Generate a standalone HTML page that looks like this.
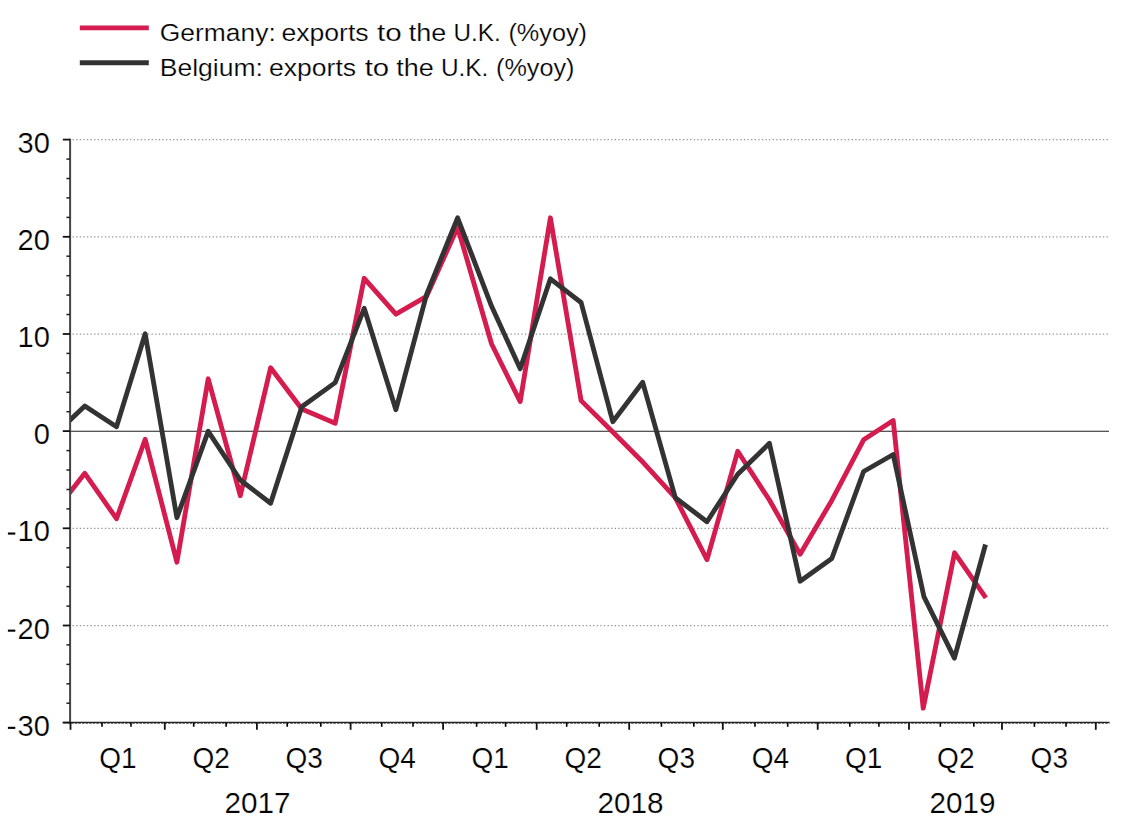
<!DOCTYPE html>
<html><head><meta charset="utf-8"><title>Exports to the U.K.</title>
<style>
html,body{margin:0;padding:0;background:#fff;}
body{width:1138px;height:823px;overflow:hidden;}
svg{display:block;}
text{font-family:"Liberation Sans",sans-serif;fill:#000;stroke:#fff;stroke-width:0.22px;}
</style></head><body>
<svg width="1138" height="823" viewBox="0 0 1138 823">
<defs><clipPath id="plot"><rect x="70" y="130" width="1045" height="600"/></clipPath></defs>
<rect width="1138" height="823" fill="#fff"/>
<line x1="72.6" x2="1108.6" y1="139.69" y2="139.69" stroke="#6f757e" stroke-width="1.25" stroke-dasharray="1.3 2.29" opacity="0.78"/>
<line x1="72.6" x2="1108.6" y1="236.86" y2="236.86" stroke="#6f757e" stroke-width="1.25" stroke-dasharray="1.3 2.29" opacity="0.78"/>
<line x1="72.6" x2="1108.6" y1="334.03" y2="334.03" stroke="#6f757e" stroke-width="1.25" stroke-dasharray="1.3 2.29" opacity="0.78"/>
<line x1="72.6" x2="1108.6" y1="528.37" y2="528.37" stroke="#6f757e" stroke-width="1.25" stroke-dasharray="1.3 2.29" opacity="0.78"/>
<line x1="72.6" x2="1108.6" y1="625.54" y2="625.54" stroke="#6f757e" stroke-width="1.25" stroke-dasharray="1.3 2.29" opacity="0.78"/>
<line x1="70" x2="1109" y1="431.25" y2="431.25" stroke="#1e1e1e" stroke-width="1.15"/>
<g clip-path="url(#plot)" fill="none" stroke-width="4.85" stroke-linejoin="round" stroke-linecap="butt">
<polyline points="53.1,513.9 84.8,473.3 116.5,518.7 145.2,439.3 176.9,562.2 208.2,378.8 240.3,495.7 270.6,367.8 301.8,409.0 335.2,423.2 364.2,278.3 395.9,314.2 426.6,296.3 457.6,227.3 491.6,344.0 520.2,401.7 550.4,217.8 581.1,400.6 612.8,432.0 643.5,462.8 675.3,497.6 707.0,559.7 737.7,451.3 769.4,500.0 800.1,554.2 831.8,500.4 863.6,439.8 893.2,420.5 923.2,708.2 954.6,552.8 985.9,597.9" stroke="#d41c4e"/>
<polyline points="53.1,436.3 84.8,406.0 116.5,426.7 145.2,333.8 176.9,517.7 208.2,431.3 240.3,480.0 270.6,503.2 301.8,406.7 335.2,382.6 364.2,308.3 395.9,409.7 426.6,294.3 457.6,217.8 491.6,306.3 520.2,368.7 550.4,278.8 581.1,302.5 612.8,421.7 642.7,382.3 675.3,497.6 707.0,521.7 737.7,474.3 769.4,443.3 800.1,581.2 831.8,558.5 863.6,471.5 893.2,454.5 923.9,596.6 954.4,658.1 985.5,544.5" stroke="#333333"/>
</g>
<line x1="70.1" x2="70.1" y1="138.7" y2="723.6" stroke="#454545" stroke-width="2"/>
<line x1="62.8" x2="1109.5" y1="722.36" y2="722.36" stroke="#222" stroke-width="1.05"/>
<line x1="70" x2="1109.5" y1="723.26" y2="723.26" stroke="#2a2a2a" stroke-width="0.9" stroke-dasharray="2.6 0.99" stroke-dashoffset="-1.2"/>
<line x1="62.8" x2="70" y1="722.7" y2="722.7" stroke="#111" stroke-width="1.8"/>
<line x1="66.4" x2="70" y1="703.2" y2="703.2" stroke="#222" stroke-width="1.5"/>
<line x1="66.4" x2="70" y1="683.8" y2="683.8" stroke="#222" stroke-width="1.5"/>
<line x1="66.4" x2="70" y1="664.4" y2="664.4" stroke="#222" stroke-width="1.5"/>
<line x1="66.4" x2="70" y1="644.9" y2="644.9" stroke="#222" stroke-width="1.5"/>
<line x1="62.8" x2="70" y1="625.5" y2="625.5" stroke="#111" stroke-width="1.8"/>
<line x1="66.4" x2="70" y1="606.1" y2="606.1" stroke="#222" stroke-width="1.5"/>
<line x1="66.4" x2="70" y1="586.6" y2="586.6" stroke="#222" stroke-width="1.5"/>
<line x1="66.4" x2="70" y1="567.2" y2="567.2" stroke="#222" stroke-width="1.5"/>
<line x1="66.4" x2="70" y1="547.8" y2="547.8" stroke="#222" stroke-width="1.5"/>
<line x1="62.8" x2="70" y1="528.3" y2="528.3" stroke="#111" stroke-width="1.8"/>
<line x1="66.4" x2="70" y1="508.9" y2="508.9" stroke="#222" stroke-width="1.5"/>
<line x1="66.4" x2="70" y1="489.5" y2="489.5" stroke="#222" stroke-width="1.5"/>
<line x1="66.4" x2="70" y1="470.0" y2="470.0" stroke="#222" stroke-width="1.5"/>
<line x1="66.4" x2="70" y1="450.6" y2="450.6" stroke="#222" stroke-width="1.5"/>
<line x1="62.8" x2="70" y1="431.1" y2="431.1" stroke="#111" stroke-width="1.8"/>
<line x1="66.4" x2="70" y1="411.7" y2="411.7" stroke="#222" stroke-width="1.5"/>
<line x1="66.4" x2="70" y1="392.3" y2="392.3" stroke="#222" stroke-width="1.5"/>
<line x1="66.4" x2="70" y1="372.8" y2="372.8" stroke="#222" stroke-width="1.5"/>
<line x1="66.4" x2="70" y1="353.4" y2="353.4" stroke="#222" stroke-width="1.5"/>
<line x1="62.8" x2="70" y1="334.0" y2="334.0" stroke="#111" stroke-width="1.8"/>
<line x1="66.4" x2="70" y1="314.5" y2="314.5" stroke="#222" stroke-width="1.5"/>
<line x1="66.4" x2="70" y1="295.1" y2="295.1" stroke="#222" stroke-width="1.5"/>
<line x1="66.4" x2="70" y1="275.7" y2="275.7" stroke="#222" stroke-width="1.5"/>
<line x1="66.4" x2="70" y1="256.2" y2="256.2" stroke="#222" stroke-width="1.5"/>
<line x1="62.8" x2="70" y1="236.8" y2="236.8" stroke="#111" stroke-width="1.8"/>
<line x1="66.4" x2="70" y1="217.4" y2="217.4" stroke="#222" stroke-width="1.5"/>
<line x1="66.4" x2="70" y1="197.9" y2="197.9" stroke="#222" stroke-width="1.5"/>
<line x1="66.4" x2="70" y1="178.5" y2="178.5" stroke="#222" stroke-width="1.5"/>
<line x1="66.4" x2="70" y1="159.1" y2="159.1" stroke="#222" stroke-width="1.5"/>
<line x1="62.8" x2="70" y1="139.6" y2="139.6" stroke="#111" stroke-width="1.8"/>
<line x1="70.5" x2="70.5" y1="722.7" y2="729.8" stroke="#111" stroke-width="1.8"/>
<line x1="102.0" x2="102.0" y1="722.7" y2="726.8" stroke="#000" stroke-width="1.6"/>
<line x1="131.0" x2="131.0" y1="722.7" y2="726.8" stroke="#000" stroke-width="1.6"/>
<line x1="164.8" x2="164.8" y1="722.7" y2="729.8" stroke="#111" stroke-width="1.8"/>
<line x1="193.7" x2="193.7" y1="722.7" y2="726.8" stroke="#000" stroke-width="1.6"/>
<line x1="226.1" x2="226.1" y1="722.7" y2="726.8" stroke="#000" stroke-width="1.6"/>
<line x1="256.9" x2="256.9" y1="722.7" y2="729.8" stroke="#111" stroke-width="1.8"/>
<line x1="287.2" x2="287.2" y1="722.7" y2="726.8" stroke="#000" stroke-width="1.6"/>
<line x1="320.8" x2="320.8" y1="722.7" y2="726.8" stroke="#000" stroke-width="1.6"/>
<line x1="350.6" x2="350.6" y1="722.7" y2="729.8" stroke="#111" stroke-width="1.8"/>
<line x1="381.7" x2="381.7" y1="722.7" y2="726.8" stroke="#000" stroke-width="1.6"/>
<line x1="413.0" x2="413.0" y1="722.7" y2="726.8" stroke="#000" stroke-width="1.6"/>
<line x1="443.1" x2="443.1" y1="722.7" y2="729.8" stroke="#111" stroke-width="1.8"/>
<line x1="476.6" x2="476.6" y1="722.7" y2="726.8" stroke="#000" stroke-width="1.6"/>
<line x1="505.6" x2="505.6" y1="722.7" y2="726.8" stroke="#000" stroke-width="1.6"/>
<line x1="536.7" x2="536.7" y1="722.7" y2="729.8" stroke="#111" stroke-width="1.8"/>
<line x1="566.7" x2="566.7" y1="722.7" y2="726.8" stroke="#000" stroke-width="1.6"/>
<line x1="599.2" x2="599.2" y1="722.7" y2="726.8" stroke="#000" stroke-width="1.6"/>
<line x1="629.2" x2="629.2" y1="722.7" y2="729.8" stroke="#111" stroke-width="1.8"/>
<line x1="661.4" x2="661.4" y1="722.7" y2="726.8" stroke="#000" stroke-width="1.6"/>
<line x1="693.8" x2="693.8" y1="722.7" y2="726.8" stroke="#000" stroke-width="1.6"/>
<line x1="722.8" x2="722.8" y1="722.7" y2="729.8" stroke="#111" stroke-width="1.8"/>
<line x1="755.0" x2="755.0" y1="722.7" y2="726.8" stroke="#000" stroke-width="1.6"/>
<line x1="787.7" x2="787.7" y1="722.7" y2="726.8" stroke="#000" stroke-width="1.6"/>
<line x1="817.7" x2="817.7" y1="722.7" y2="729.8" stroke="#111" stroke-width="1.8"/>
<line x1="849.8" x2="849.8" y1="722.7" y2="726.8" stroke="#000" stroke-width="1.6"/>
<line x1="878.9" x2="878.9" y1="722.7" y2="726.8" stroke="#000" stroke-width="1.6"/>
<line x1="909.0" x2="909.0" y1="722.7" y2="729.8" stroke="#111" stroke-width="1.8"/>
<line x1="940.3" x2="940.3" y1="722.7" y2="726.8" stroke="#000" stroke-width="1.6"/>
<line x1="973.8" x2="973.8" y1="722.7" y2="726.8" stroke="#000" stroke-width="1.6"/>
<line x1="1002.0" x2="1002.0" y1="722.7" y2="729.8" stroke="#111" stroke-width="1.8"/>
<line x1="1034.4" x2="1034.4" y1="722.7" y2="726.8" stroke="#000" stroke-width="1.6"/>
<line x1="1066.0" x2="1066.0" y1="722.7" y2="726.8" stroke="#000" stroke-width="1.6"/>
<line x1="1095.8" x2="1095.8" y1="722.7" y2="729.8" stroke="#111" stroke-width="1.8"/>
<text transform="translate(49.9 152.7) scale(1.004 1)" font-size="29" text-anchor="end">30</text>
<text transform="translate(49.9 249.9) scale(1.004 1)" font-size="29" text-anchor="end">20</text>
<text transform="translate(49.9 347.0) scale(1.004 1)" font-size="29" text-anchor="end">10</text>
<text transform="translate(49.9 444.2) scale(1.004 1)" font-size="29" text-anchor="end">0</text>
<text transform="translate(49.9 541.4) scale(1.004 1)" font-size="29" text-anchor="end">10</text>
<rect x="7.9" y="532.5" width="7.4" height="2.1" fill="#000"/>
<text transform="translate(49.9 638.5) scale(1.004 1)" font-size="29" text-anchor="end">20</text>
<rect x="7.9" y="629.6" width="7.4" height="2.1" fill="#000"/>
<text transform="translate(49.9 735.7) scale(1.004 1)" font-size="29" text-anchor="end">30</text>
<rect x="7.9" y="726.8" width="7.4" height="2.1" fill="#000"/>
<text transform="translate(118.0 767.9) scale(0.966 1)" font-size="29" text-anchor="middle">Q1</text>
<text transform="translate(211.2 767.9) scale(0.966 1)" font-size="29" text-anchor="middle">Q2</text>
<text transform="translate(304.1 767.9) scale(0.966 1)" font-size="29" text-anchor="middle">Q3</text>
<text transform="translate(397.2 767.9) scale(0.966 1)" font-size="29" text-anchor="middle">Q4</text>
<text transform="translate(490.2 767.9) scale(0.966 1)" font-size="29" text-anchor="middle">Q1</text>
<text transform="translate(583.2 767.9) scale(0.966 1)" font-size="29" text-anchor="middle">Q2</text>
<text transform="translate(676.3 767.9) scale(0.966 1)" font-size="29" text-anchor="middle">Q3</text>
<text transform="translate(770.5 767.9) scale(0.966 1)" font-size="29" text-anchor="middle">Q4</text>
<text transform="translate(863.6 767.9) scale(0.966 1)" font-size="29" text-anchor="middle">Q1</text>
<text transform="translate(955.8 767.9) scale(0.966 1)" font-size="29" text-anchor="middle">Q2</text>
<text transform="translate(1049.3 767.9) scale(0.966 1)" font-size="29" text-anchor="middle">Q3</text>
<text transform="translate(257.5 812.6) scale(1.023 1)" font-size="29" text-anchor="middle">2017</text>
<text transform="translate(630.5 812.6) scale(1.023 1)" font-size="29" text-anchor="middle">2018</text>
<text transform="translate(962.5 812.6) scale(1.023 1)" font-size="29" text-anchor="middle">2019</text>
<line x1="79.8" x2="148.8" y1="27.95" y2="27.95" stroke="#d41c4e" stroke-width="4.8"/>
<line x1="79.8" x2="148.8" y1="62.75" y2="62.75" stroke="#333333" stroke-width="4.8"/>
<text transform="translate(159.78 40.7) scale(1.1015 1)" font-size="24">Germany:</text>
<text transform="translate(281.42 40.7) scale(1.1095 1)" font-size="24">exports</text>
<text transform="translate(377.10 40.7) scale(1.2346 1)" font-size="24">to</text>
<text transform="translate(408.74 40.7) scale(1.1234 1)" font-size="24">the</text>
<text transform="translate(453.52 40.7) scale(1.0113 1)" font-size="24">U.K.</text>
<text transform="translate(508.39 40.7) scale(1.0529 1)" font-size="24">(%yoy)</text>
<text transform="translate(159.76 75.6) scale(1.1052 1)" font-size="24">Belgium:</text>
<text transform="translate(269.02 75.6) scale(1.1069 1)" font-size="24">exports</text>
<text transform="translate(364.70 75.6) scale(1.2238 1)" font-size="24">to</text>
<text transform="translate(396.14 75.6) scale(1.1265 1)" font-size="24">the</text>
<text transform="translate(440.91 75.6) scale(1.0160 1)" font-size="24">U.K.</text>
<text transform="translate(495.99 75.6) scale(1.0515 1)" font-size="24">(%yoy)</text>
</svg></body></html>
